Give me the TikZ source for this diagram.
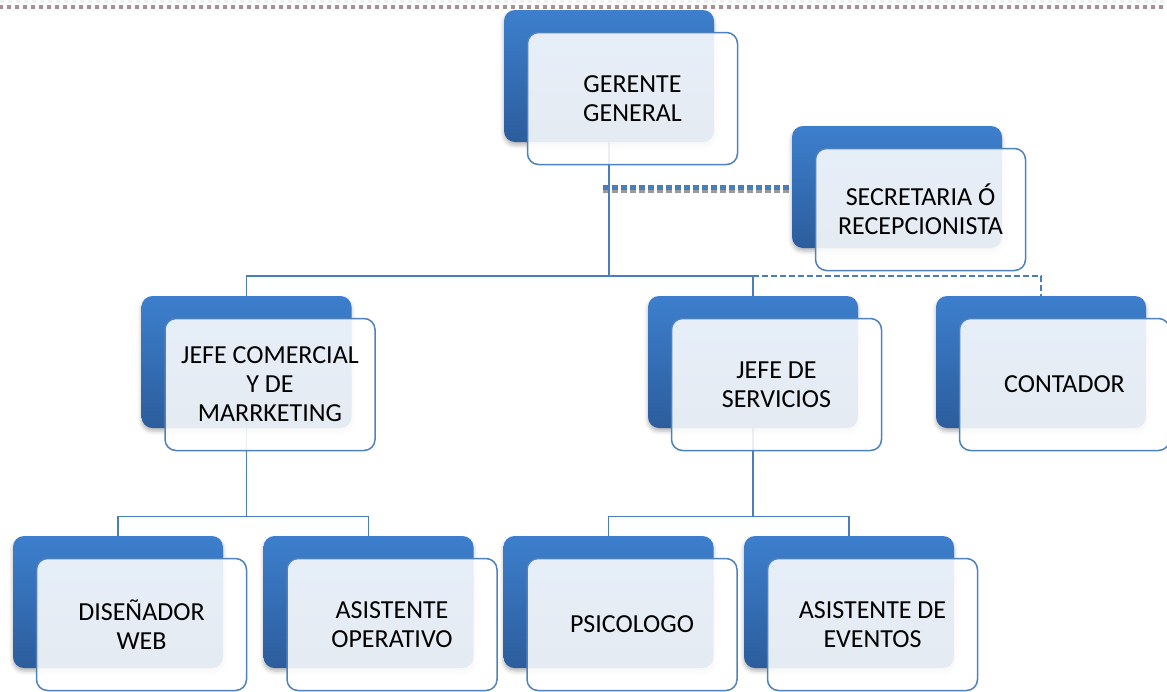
\documentclass[tikz,border=0pt]{standalone}
\usepackage{fontspec}
\setmainfont{Carlito}
\usetikzlibrary{shadows.blur}
\definecolor{linkblue}{HTML}{4A7EBB}
\definecolor{boxtop}{HTML}{3D7FCD}
\definecolor{boxbot}{HTML}{2C5D9C}
\definecolor{rimblue}{HTML}{4F81BD}
\definecolor{pagerule}{HTML}{A89090}
\definecolor{dotshade}{HTML}{9A9A9A}
\pgfdeclarelayer{links}
\pgfsetlayers{links,main}
\tikzset{
  backbox/.style={rectangle, rounded corners=11pt, minimum width=210pt,
    minimum height=132pt, inner sep=0pt, top color=boxtop, bottom color=boxbot,
    draw=none, blur shadow={shadow xshift=0pt, shadow yshift=-3pt,
    shadow blur radius=4pt, shadow opacity=30}},
  frontbox/.style={rectangle, rounded corners=11pt, minimum width=210pt,
    minimum height=132pt, inner sep=0pt, fill=white, fill opacity=0.88,
    text opacity=1, draw=rimblue, draw opacity=1, line width=1.5pt,
    align=center, text=black, font=\fontsize{26}{29}\selectfont},
  link/.style={draw=linkblue, line width=1.5pt},
  dashlink/.style={link, dash pattern=on 6pt off 3pt},
}
% one position of the chart: shaded back card plus offset label card
\newcommand\orgunit[5]{%
  \node[backbox, minimum height=#4] (#1-b) at (#2,#3) {};
  \node[frontbox, minimum height=#4] (#1) at ([xshift=23.5pt,yshift=-22.5pt]#1-b.center) {#5};
}
\begin{document}
\begin{tikzpicture}[x=1pt, y=-1pt]
\useasboundingbox (0,0) rectangle (1167,691);

% page rule along the top edge
\draw[gray!12, line width=3pt, dash pattern=on 4pt off 4pt] (0,1.5) -- (1167,1.5);
\draw[pagerule, line width=4pt, dash pattern=on 4pt off 4pt] (-1,6.5) -- (1167,6.5);

% positions
\orgunit{gg}{609}{76}{132pt}{GERENTE\\GENERAL}
\orgunit{sec}{897}{187}{122pt}{SECRETARIA Ó\\RECEPCIONISTA}
\orgunit{jc}{246.5}{362}{132pt}{JEFE COMERCIAL\\Y DE\\MARRKETING}
\orgunit{js}{753}{362}{132pt}{JEFE DE\\SERVICIOS}
\orgunit{ct}{1041}{362}{132pt}{CONTADOR}
\orgunit{dw}{118}{602}{132pt}{DISEÑADOR\\WEB}
\orgunit{ao}{368.5}{602}{132pt}{ASISTENTE\\OPERATIVO}
\orgunit{ps}{608.5}{602}{132pt}{PSICOLOGO}
\orgunit{ae}{849}{602}{132pt}{ASISTENTE DE\\EVENTOS}

% reporting lines
\begin{pgfonlayer}{links}
  \coordinate (bus1) at (609,276);
  \coordinate (bus2) at (246.5,516.5);
  \coordinate (bus3) at (753,516.5);
  \coordinate (secjoin) at ([xshift=-6pt]gg-b.south |- sec-b.west);
  % staff (assistant) link to the secretary
  \draw[dotshade, line width=4pt, dash pattern=on 6pt off 3pt]
    ([yshift=-4pt]secjoin) -- ([yshift=-4pt]sec-b.west);
  \draw[linkblue, line width=5pt, dash pattern=on 6pt off 3pt]
    (secjoin) -- (sec-b.west);
  \draw[link] (gg-b.south) -- (bus1);
  \draw[link] (bus1) -| (jc-b.north);
  \draw[link] (bus1) -| (js-b.north);
  \draw[dashlink] (bus1) -| (ct-b.north);
  \draw[link] (jc-b.south) -- (bus2);
  \draw[link] (bus2) -| (dw-b.north);
  \draw[link] (bus2) -| (ao-b.north);
  \draw[link] (js-b.south) -- (bus3);
  \draw[link] (bus3) -| (ps-b.north);
  \draw[link] (bus3) -| (ae-b.north);
\end{pgfonlayer}
\end{tikzpicture}
\end{document}
